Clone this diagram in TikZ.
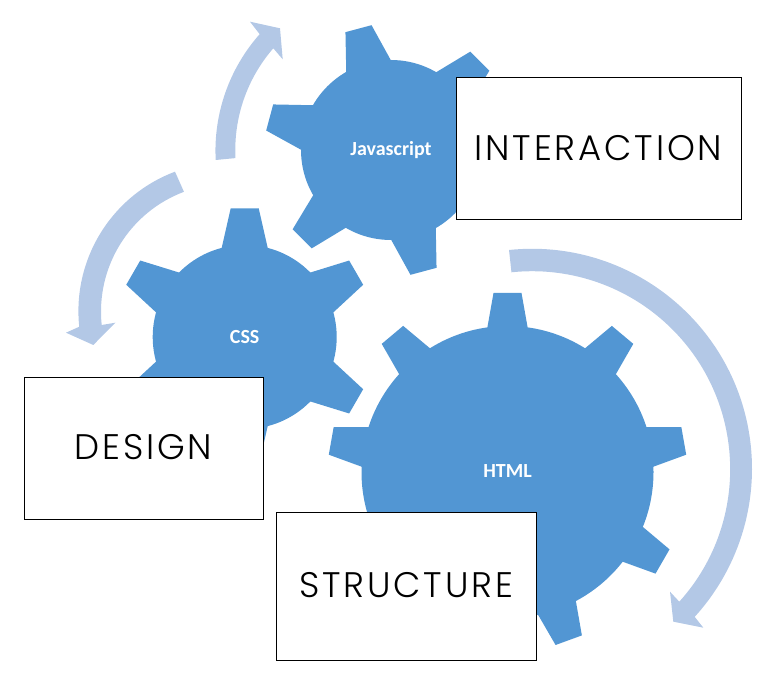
\documentclass[tikz,border=0pt]{standalone}
\usepackage{fontspec}
\setmainfont{Carlito}
\newfontfamily\boxfont[LetterSpace=8]{Poppins Light}
\usetikzlibrary{positioning}
\definecolor{gear1}{RGB}{82, 150, 211}
\definecolor{flow1}{RGB}{179, 200, 230}
\tikzset{
  gearbody/.style={circle,fill=gear1,text=white,inner sep=0pt,font=\bfseries\fontsize{20}{20}\selectfont},
  tooth/.style={fill=gear1},
  flow/.style={fill=flow1},
  label box/.style={rectangle,draw=black,fill=white,line width=.8pt,inner sep=0pt,font=\boxfont\fontsize{35.5}{36}\selectfont}
}
\begin{document}
\begin{tikzpicture}[x=1pt,y=1pt]
  \useasboundingbox (0,0) rectangle (765,683);

  \node[gearbody, minimum size=292pt] (html) at (507.5,211) {\raisebox{1.5pt}{HTML}};
  \node[gearbody, minimum size=184pt] (css) at (244.7,346) {CSS};
  \node[gearbody, minimum size=180pt] (js) at (391,533) {Javascript};

  \foreach \a in {90,50,10,-30,-70,-110,-150,170,130}
    \fill[tooth,shift={(html.center)},rotate=\a] (134,-22) -- (179,-14) -- (179,14) -- (134,22) -- cycle;
  \foreach \a in {90,30,-30,-90,-150,150}
    \fill[tooth,shift={(css.center)},rotate=\a] (79,-25.3) -- (128.7,-14) -- (128.7,14) -- (79,25.3) -- cycle;
  \foreach \a in {105,45,-15,-75,-135,165}
    \fill[tooth,shift={(js.center)},rotate=\a] (77,-25.5) -- (125.6,-13.5) -- (125.6,13.5) -- (77,25.5) -- cycle;

  % curved arrows
  \fill[flow] (509,433) arc (96:-42.3:220) -- (703.3,55.3) -- (673.3,61.3) -- (670,91.3) -- (679.3,81.3) arc (-42:96:198) -- cycle;
  \fill[flow] (215.7,523) arc (183:138.5:176) -- (250,661.3) -- (280,654.7) -- (282.7,623.7) -- (273.3,634.7) arc (139:183:155) -- cycle;
  \fill[flow] (175,511.3) arc (110.6:186:149) -- (66,350.3) -- (93.3,338) -- (115.3,360.3) -- (101.7,358) arc (186:110.6:128) -- cycle;

  \node[label box, minimum width=285pt, minimum height=142pt] (interaction) at (598.5,535) {\raisebox{-1pt}{INTERACTION}};
  \node[label box, minimum width=239pt, minimum height=142pt] (design) at (143.5,235) {\raisebox{2pt}{DESIGN}};
  \node[label box, minimum width=260pt, minimum height=148pt] (structure) at (406,97) {\raisebox{2pt}{STRUCTURE}};
\end{tikzpicture}
\end{document}
